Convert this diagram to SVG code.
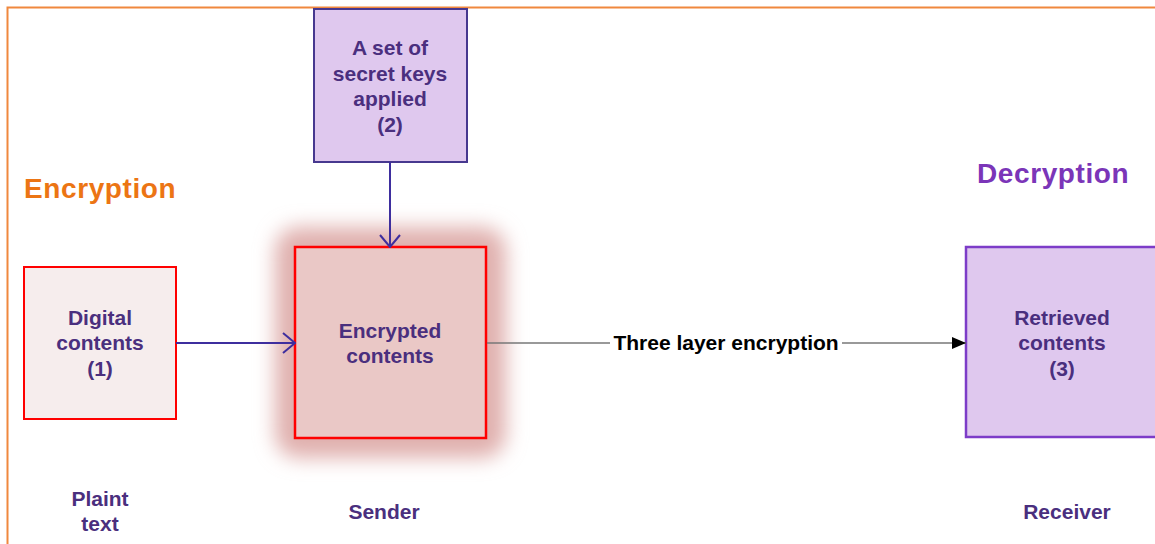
<svg xmlns="http://www.w3.org/2000/svg" width="1155" height="544" viewBox="0 0 1155 544">
  <defs>
    <filter id="glow" x="-30%" y="-30%" width="160%" height="160%">
      <feGaussianBlur stdDeviation="10"/>
    </filter>
    <marker id="open-arrow" viewBox="0 0 14 22" refX="13" refY="11" markerWidth="14" markerHeight="22" markerUnits="userSpaceOnUse" orient="auto">
      <path d="M1,1 L13,11 L1,21" fill="none" stroke="#3E2E9E" stroke-width="2"/>
    </marker>
    <marker id="solid-arrow" viewBox="0 0 14 12" refX="14" refY="6" markerWidth="14" markerHeight="12" markerUnits="userSpaceOnUse" orient="auto">
      <path d="M0,0 L14,6 L0,12 Z" fill="#000"/>
    </marker>
  </defs>
  <style>
    .lbl { font-family: "Liberation Sans", Arial, sans-serif; font-weight: bold; font-size: 21px; fill: #4A2F7E; text-anchor: middle; dominant-baseline: central; }
    .head { font-family: "Liberation Sans", Arial, sans-serif; font-weight: bold; font-size: 28px; letter-spacing: 0.6px; }
    .edge-lbl { font-family: "Liberation Sans", Arial, sans-serif; font-weight: bold; font-size: 21px; fill: #000; text-anchor: middle; dominant-baseline: central; }
    .flow { fill: none; stroke: #3E2E9E; stroke-width: 2; }
  </style>

  <rect width="1155" height="544" fill="#fff"/>
  <!-- outer frame -->
  <rect x="7.5" y="7.5" width="1160" height="550" fill="none" stroke="#F0883E" stroke-width="2"/>

  <!-- section headings -->
  <text class="head" x="24" y="198" fill="#EC7514">Encryption</text>
  <text class="head" x="977" y="183" fill="#7B35B8">Decryption</text>

  <!-- plain text input -->
  <g id="node-digital">
    <rect x="24" y="267" width="152" height="152" fill="#F6EDED" stroke="#FF0000" stroke-width="2"/>
    <text class="lbl" x="100" y="317">Digital</text>
    <text class="lbl" x="100" y="342">contents</text>
    <text class="lbl" x="100" y="368">(1)</text>
  </g>

  <!-- key set -->
  <g id="node-keys">
    <rect x="314" y="9" width="153" height="153" fill="#DFC8EE" stroke="#47388F" stroke-width="2"/>
    <text class="lbl" x="390" y="47">A set of</text>
    <text class="lbl" x="390" y="73">secret keys</text>
    <text class="lbl" x="390" y="98">applied</text>
    <text class="lbl" x="390" y="124">(2)</text>
  </g>

  <!-- encrypted contents with soft halo -->
  <g id="node-encrypted">
    <rect x="275" y="227" width="231" height="231" rx="24" fill="#E0B0AE" filter="url(#glow)"/>
    <rect x="295" y="247" width="191" height="191" fill="#EAC8C6" stroke="#FF0000" stroke-width="2.5"/>
    <text class="lbl" x="390" y="330">Encrypted</text>
    <text class="lbl" x="390" y="355">contents</text>
  </g>

  <!-- retrieved output -->
  <g id="node-retrieved">
    <rect x="966" y="247" width="195" height="190" fill="#DFC8EE" stroke="#7D3CC8" stroke-width="2.5"/>
    <text class="lbl" x="1062" y="317">Retrieved</text>
    <text class="lbl" x="1062" y="342">contents</text>
    <text class="lbl" x="1062" y="368">(3)</text>
  </g>

  <!-- connectors -->
  <g id="connectors">
    <line class="flow" x1="176" y1="343" x2="295" y2="343" marker-end="url(#open-arrow)"/>
    <line class="flow" x1="390" y1="162" x2="390" y2="247" marker-end="url(#open-arrow)"/>
    <line x1="487" y1="343" x2="966" y2="343" stroke="#777" stroke-width="1.3" marker-end="url(#solid-arrow)"/>
    <rect x="610" y="330" width="232" height="26" fill="#fff"/>
    <text class="edge-lbl" x="726" y="342">Three layer encryption</text>
  </g>

  <!-- role captions -->
  <g id="captions">
    <text class="lbl" x="100" y="498">Plaint</text>
    <text class="lbl" x="100" y="523">text</text>
    <text class="lbl" x="384" y="511">Sender</text>
    <text class="lbl" x="1067" y="511">Receiver</text>
  </g>
</svg>
